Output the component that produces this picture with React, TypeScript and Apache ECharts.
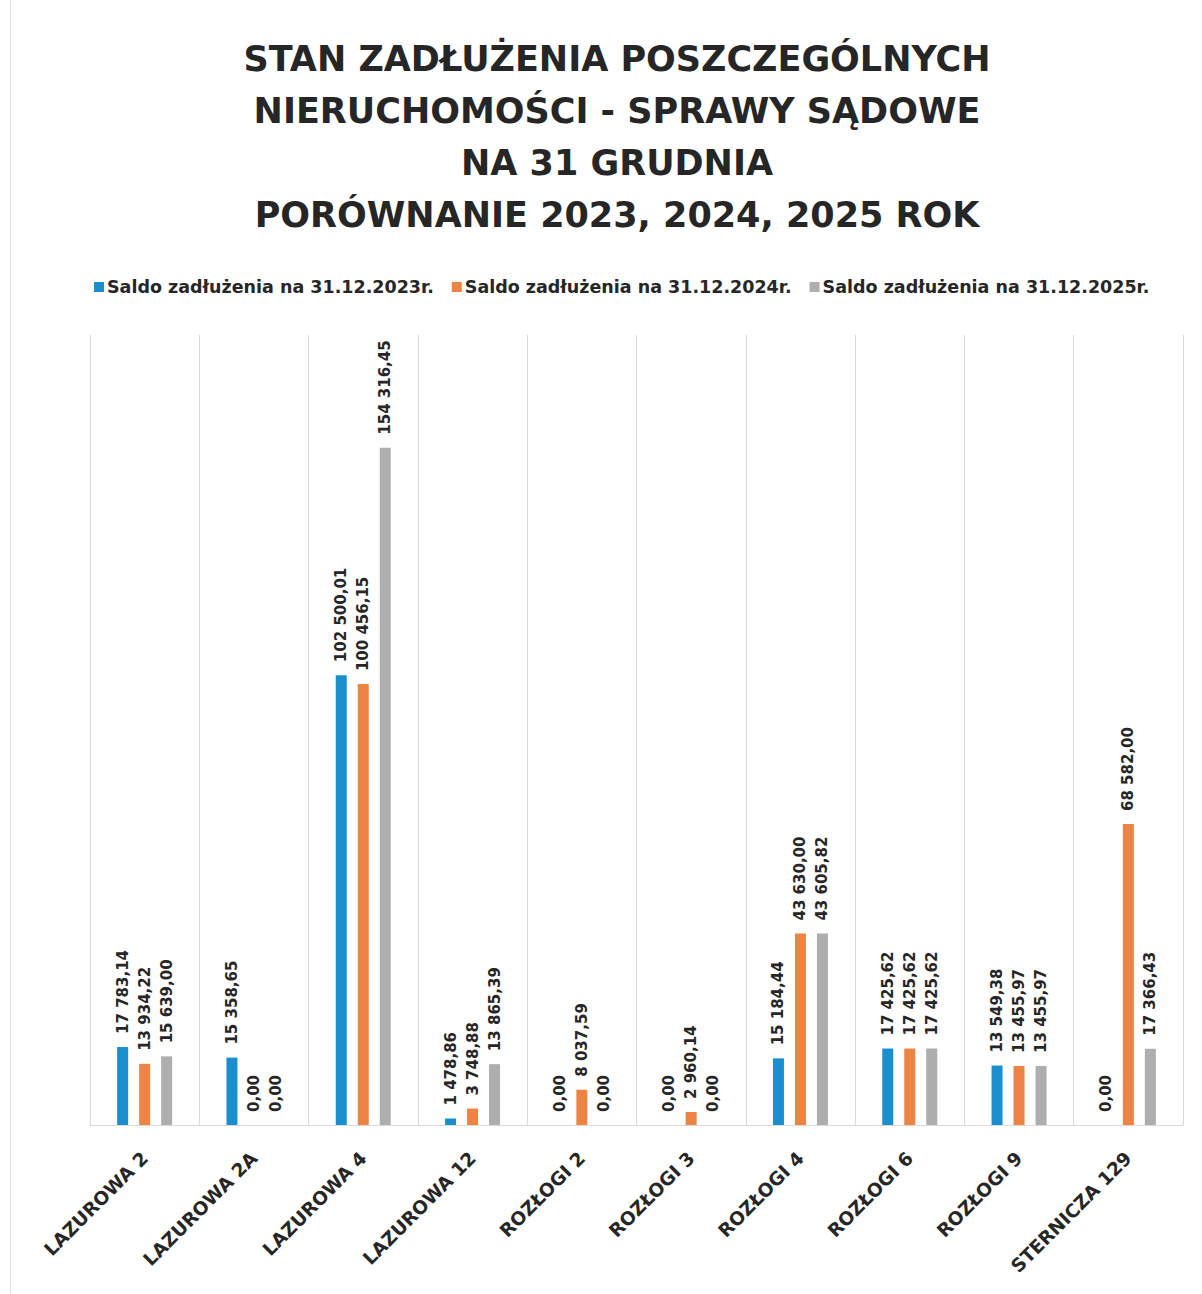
import React, { useEffect, useRef } from "react";
import * as echarts from "echarts";

const categories = [
  "LAZUROWA 2",
  "LAZUROWA 2A",
  "LAZUROWA 4",
  "LAZUROWA 12",
  "ROZŁOGI 2",
  "ROZŁOGI 3",
  "ROZŁOGI 4",
  "ROZŁOGI 6",
  "ROZŁOGI 9",
  "STERNICZA 129",
];
const seriesNames = [
  "Saldo zadłużenia na 31.12.2023r.",
  "Saldo zadłużenia na 31.12.2024r.",
  "Saldo zadłużenia na 31.12.2025r.",
];
const values2023 = [17783.14, 15358.65, 102500.01, 1478.86, 0, 0, 15184.44, 17425.62, 13549.38, 0];
const values2024 = [13934.22, 0, 100456.15, 3748.88, 8037.59, 2960.14, 43630.0, 17425.62, 13455.97, 68582.0];
const values2025 = [15639.0, 0, 154316.45, 13865.39, 0, 0, 43605.82, 17425.62, 13455.97, 17366.43];
const titleLines = [
  "STAN ZADŁUŻENIA POSZCZEGÓLNYCH",
  "NIERUCHOMOŚCI - SPRAWY SĄDOWE",
  "NA 31 GRUDNIA",
  "PORÓWNANIE 2023, 2024, 2025 ROK",
];
const colors = ["#1b8fcd", "#ee8443", "#aeaeae"];
const FONT = "DejaVu Sans";

function fmt(v: number): string {
  const [i, d] = v.toFixed(2).split(".");
  const withSpaces = i.replace(/\B(?=(\d{3})+(?!\d))/g, " ");
  return withSpaces + "," + d;
}

export default function App() {
  const ref = useRef<HTMLDivElement>(null);
  useEffect(() => {
    if (!ref.current) return;
    const chart = echarts.init(ref.current, null, { renderer: "svg" });
    const allValues = [values2023, values2024, values2025];
    chart.setOption({
      animation: false,
      backgroundColor: "#ffffff",
      textStyle: { fontFamily: FONT },
      title: {
        text: titleLines.join("\n"),
        left: 612,
        textAlign: "center",
        top: 28,
        textStyle: {
          fontFamily: FONT,
          fontSize: 35,
          fontWeight: "bold",
          color: "#262626",
          lineHeight: 52,
        },
      },
      legend: {
        top: 273,
        left: 89,
        icon: "rect",
        itemWidth: 10,
        itemHeight: 10,
        itemGap: 18,
        textStyle: { fontFamily: FONT, fontSize: 17.5, fontWeight: "bold", color: "#262626", padding: [0, 0, 0, -2] },
        data: seriesNames,
      },
      graphic: [
        {
          type: "line",
          shape: { x1: 10.5, y1: 0, x2: 10.5, y2: 1294 },
          style: { stroke: "#e3e3e3", lineWidth: 1 },
        },
      ],
      grid: { left: 90, right: 19, top: 335, bottom: 169, containLabel: false },
      xAxis: {
        type: "category",
        data: categories,
        axisLine: { lineStyle: { color: "#d9d9d9", width: 1 } },
        axisTick: { show: false },
        splitLine: { show: true, lineStyle: { color: "#d9d9d9", width: 1 } },
        axisLabel: {
          rotate: 45,
          interval: 0,
          margin: 30,
          fontFamily: FONT,
          fontSize: 18.5,
          fontWeight: "bold",
          color: "#262626",
        },
      },
      yAxis: {
        type: "value",
        min: 0,
        max: 180000,
        show: false,
        splitLine: { show: false },
      },
      series: seriesNames.map((name, k) => ({
        name,
        type: "bar",
        data: allValues[k],
        barWidth: 11,
        barGap: "100%",
        itemStyle: { color: colors[k] },
        label: {
          show: true,
          position: "top",
          rotate: 90,
          align: "left",
          verticalAlign: "middle",
          distance: 13,
          fontFamily: FONT,
          fontSize: 15,
          fontWeight: "bold",
          color: "#262626",
          formatter: (p: any) => fmt(p.value),
        },
      })),
    });
    return () => chart.dispose();
  }, []);
  return (
    <div
      ref={ref}
      style={{ position: "fixed", left: 0, top: 0, width: 1202, height: 1294 }}
    />
  );
}
